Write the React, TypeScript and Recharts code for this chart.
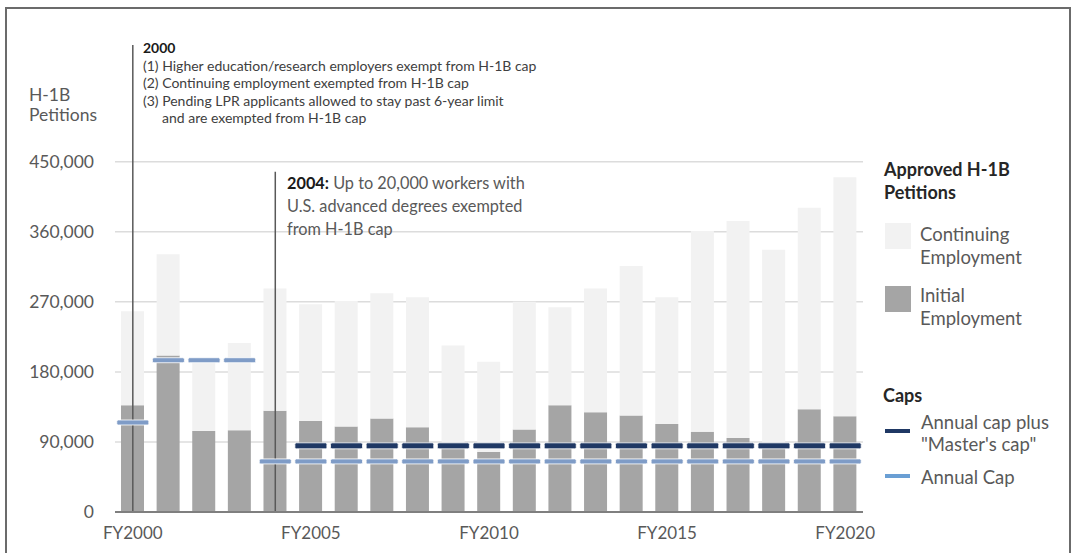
import { Bar, CartesianGrid, ComposedChart, ReferenceLine, Scatter, XAxis, YAxis } from 'recharts'

const years = [
  'FY2000', 'FY2001', 'FY2002', 'FY2003', 'FY2004', 'FY2005', 'FY2006',
  'FY2007', 'FY2008', 'FY2009', 'FY2010', 'FY2011', 'FY2012', 'FY2013',
  'FY2014', 'FY2015', 'FY2016', 'FY2017', 'FY2018', 'FY2019', 'FY2020',
]

const initialEmployment = [
  137000, 201000, 104000, 105000, 130000, 117000, 110000,
  120000, 109000, 86000, 77000, 106000, 137000, 128000,
  124000, 113000, 103000, 95000, 88000, 132000, 123000,
]

const continuingEmployment = [
  121000, 130000, 94000, 112000, 157000, 150000, 161000,
  161000, 167000, 128000, 116000, 164000, 126000, 159000,
  192000, 163000, 258000, 279000, 249000, 259000, 307000,
]

const annualCap = [
  115000, 195000, 195000, 195000, 65000, 65000, 65000,
  65000, 65000, 65000, 65000, 65000, 65000, 65000,
  65000, 65000, 65000, 65000, 65000, 65000, 65000,
]

const mastersCap = [
  null, null, null, null, null, 85000, 85000,
  85000, 85000, 85000, 85000, 85000, 85000, 85000,
  85000, 85000, 85000, 85000, 85000, 85000, 85000,
]

const yTicks = [0, 90000, 180000, 270000, 360000, 450000]

const data = years.map((year, i) => ({
  year,
  initial: initialEmployment[i],
  continuing: continuingEmployment[i],
  annualCap: annualCap[i],
  mastersCap: mastersCap[i],
}))

const FONT = 'Lato, "Open Sans", sans-serif'
const TEXT = '#595959'
const DARK_CAP = '#1f3864'
const LIGHT_CAP = '#7f9cc7'

const capDash = (key: string, color: string, thickness: number) => (props: any) => {
  const { cx, cy, payload } = props
  if (payload == null || payload[key] == null || cx == null || cy == null) return <g />
  return (
    <rect
      x={cx - 16}
      y={cy - thickness / 2}
      width={32}
      height={thickness}
      rx={1.5}
      fill={color}
      stroke="#ffffff"
      strokeOpacity={0.8}
      strokeWidth={1}
    />
  )
}

const formatTick = (v: number) => v.toLocaleString('en-US')

function App() {
  return (
    <div style={{ position: 'absolute', left: 0, top: 0, width: 1075, height: 553, background: '#fff', fontFamily: FONT, overflow: 'hidden' }}>
      <div style={{ position: 'absolute', left: 5, top: 7, width: 1062, height: 560, border: '2px solid #6b6b6b' }} />
      <ComposedChart
        width={1075}
        height={553}
        data={data}
        margin={{ top: 45, right: 212, left: 0, bottom: 0 }}
        style={{ position: 'absolute', left: 0, top: 0 }}
      >
        <CartesianGrid vertical={false} horizontalValues={yTicks} stroke="#dcdcdc" strokeWidth={1.5} />
        <XAxis
          dataKey="year"
          interval={4}
          height={41}
          tickLine={false}
          axisLine={{ stroke: '#7f7f7f', strokeWidth: 2 }}
          tickMargin={9}
          tick={{ fill: TEXT, fontSize: 17, fontFamily: FONT }}
        />
        <YAxis
          domain={[0, 600000]}
          ticks={yTicks}
          width={115}
          axisLine={false}
          tickLine={false}
          tickMargin={15}
          tickFormatter={formatTick}
          tick={{ fill: TEXT, fontSize: 17.5, fontFamily: FONT }}
        />
        <Bar dataKey="initial" stackId="a" fill="#a5a5a5" barSize={23} isAnimationActive={false} />
        <Bar dataKey="continuing" stackId="a" fill="#f2f2f2" barSize={23} isAnimationActive={false} />
        <ReferenceLine
          segment={[{ x: 'FY2000', y: 600000 }, { x: 'FY2000', y: 0 }]}
          stroke="#595959"
          strokeWidth={1.5}
        />
        <ReferenceLine
          segment={[{ x: 'FY2004', y: 437000 }, { x: 'FY2004', y: 0 }]}
          stroke="#595959"
          strokeWidth={1.5}
        />
        <Scatter dataKey="annualCap" shape={capDash('annualCap', LIGHT_CAP, 5)} isAnimationActive={false} />
        <Scatter dataKey="mastersCap" shape={capDash('mastersCap', DARK_CAP, 6)} isAnimationActive={false} />
      </ComposedChart>

      <div style={{ position: 'absolute', left: 29, top: 85, color: TEXT, fontSize: 17.5, lineHeight: '20px' }}>
        H-1B
        <br />
        Petitions
      </div>

      <div style={{ position: 'absolute', left: 143, top: 39, color: '#404040', fontSize: 14, lineHeight: '17.5px', whiteSpace: 'nowrap' }}>
        <div style={{ fontWeight: 700, color: '#1a1a1a' }}>2000</div>
        <div>(1) Higher education/research employers exempt from H-1B cap</div>
        <div>(2) Continuing employment exempted from H-1B cap</div>
        <div>(3) Pending LPR applicants allowed to stay past 6-year limit</div>
        <div style={{ paddingLeft: 19 }}>and are exempted from H-1B cap</div>
      </div>

      <div style={{ position: 'absolute', left: 287, top: 171, color: TEXT, fontSize: 16.3, lineHeight: '23px', whiteSpace: 'nowrap' }}>
        <div>
          <span style={{ fontWeight: 700, color: '#1a1a1a' }}>2004:</span> Up to 20,000 workers with
        </div>
        <div>U.S. advanced degrees exempted</div>
        <div>from H-1B cap</div>
      </div>

      <div style={{ position: 'absolute', left: 884, top: 158, color: '#262626', fontSize: 18, fontWeight: 700, lineHeight: '23px' }}>
        Approved H-1B
        <br />
        Petitions
      </div>
      <div style={{ position: 'absolute', left: 885, top: 223, width: 26, height: 26, background: '#f2f2f2' }} />
      <div style={{ position: 'absolute', left: 920, top: 223, color: TEXT, fontSize: 18.5, lineHeight: '22.5px' }}>
        Continuing
        <br />
        Employment
      </div>
      <div style={{ position: 'absolute', left: 885, top: 286, width: 26, height: 26, background: '#a5a5a5' }} />
      <div style={{ position: 'absolute', left: 920, top: 284, color: TEXT, fontSize: 18.5, lineHeight: '22.5px' }}>
        Initial
        <br />
        Employment
      </div>

      <div style={{ position: 'absolute', left: 883, top: 384, color: '#262626', fontSize: 18, fontWeight: 700, lineHeight: '23px' }}>
        Caps
      </div>
      <div style={{ position: 'absolute', left: 885, top: 429, width: 25, height: 4, background: DARK_CAP }} />
      <div style={{ position: 'absolute', left: 921, top: 411, color: TEXT, fontSize: 18.5, lineHeight: '22px' }}>
        Annual cap plus
        <br />
        "Master's cap"
      </div>
      <div style={{ position: 'absolute', left: 885, top: 474, width: 25, height: 4, background: '#6a9fd4' }} />
      <div style={{ position: 'absolute', left: 921, top: 466, color: TEXT, fontSize: 18.5, lineHeight: '22px' }}>
        Annual Cap
      </div>
    </div>
  )
}

export default App
